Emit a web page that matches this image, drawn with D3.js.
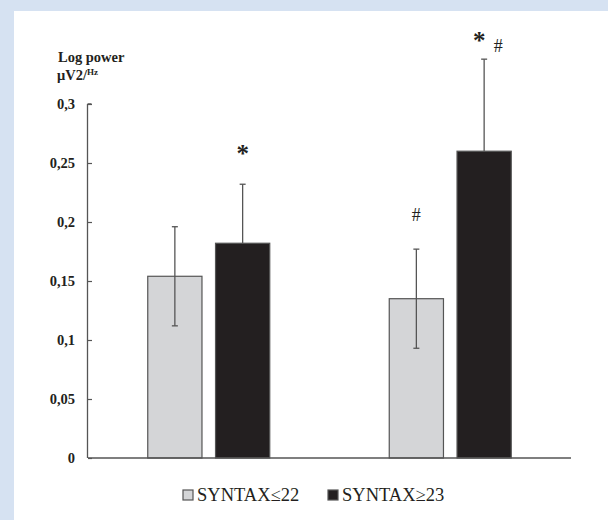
<!DOCTYPE html>
<html>
<head>
<meta charset="utf-8">
<script src="https://cdn.jsdelivr.net/npm/d3@7"></script>
<style>
  html, body { margin: 0; padding: 0; background: #d6e2f2; }
  svg { display: block; }
  text { font-family: "Liberation Serif", "Times New Roman", serif; fill: #231f20; }
</style>
</head>
<body>
<div id="chart"></div>
<script>
// groups on the x axis (no labels shown)
var groups = ['A', 'B'];
var series = ['SYNTAX≤22', 'SYNTAX≥23'];
var means = [[0.154, 0.182], [0.135, 0.260]];
var sds = [[0.042, 0.050], [0.042, 0.078]];
var marks = [['', '*'], ['#', '* #']];
var yTicks = [0, 0.05, 0.1, 0.15, 0.2, 0.25, 0.3];
var tickLabels = ['0', '0,05', '0,1', '0,15', '0,2', '0,25', '0,3'];

var width = 608, height = 520;
var colors = ['#d4d5d7', '#231f20'];

var svg = d3.select('#chart').append('svg')
  .attr('width', width)
  .attr('height', height);

// white panel
svg.append('rect')
  .attr('x', 14).attr('y', 11)
  .attr('width', width - 14).attr('height', height - 11)
  .attr('fill', '#fff');

var y = d3.scaleLinear().domain([0, 0.3]).range([458, 104]);
var x0 = d3.scaleBand().domain(groups).range([88, 571]);
var x1 = d3.scaleBand().domain(series).range([0, 122]).paddingInner(0.2);
var off = (x0.bandwidth() - 122) / 2;

// y axis
var yAxis = d3.axisLeft(y)
  .tickValues(yTicks)
  .tickSize(-4)
  .tickPadding(13)
  .tickFormat(function(d, i) { return tickLabels[i]; });

var ya = svg.append('g')
  .attr('transform', 'translate(88,0)')
  .call(yAxis);
ya.select('.domain').attr('stroke', '#555').attr('stroke-width', 1.3).attr('d', 'M-0.5,104H3.5M-0.5,104V458');
ya.selectAll('.tick line').attr('stroke', '#555').attr('stroke-width', 1.2);
ya.selectAll('.tick text')
  .attr('font-family', '"Liberation Serif", serif')
  .attr('font-size', 14.5)
  .attr('font-weight', 'bold')
  .attr('fill', '#231f20');

// bars
var g = svg.append('g');
groups.forEach(function(grp, gi) {
  series.forEach(function(s, si) {
    var bx = x0(grp) + off + x1(s);
    var bw = x1.bandwidth();
    var v = means[gi][si], e = sds[gi][si];
    g.append('rect')
      .attr('x', bx).attr('y', y(v))
      .attr('width', bw).attr('height', y(0) - y(v))
      .attr('fill', colors[si])
      .attr('stroke', '#555')
      .attr('stroke-width', 1.2);
    var cx = bx + bw / 2;
    var lo = si === 0 ? v - e : v;
    g.append('line')
      .attr('x1', cx).attr('x2', cx)
      .attr('y1', y(v + e)).attr('y2', y(lo))
      .attr('stroke', '#555').attr('stroke-width', 1.3);
    g.append('line')
      .attr('x1', cx - 3).attr('x2', cx + 3)
      .attr('y1', y(v + e)).attr('y2', y(v + e))
      .attr('stroke', '#555').attr('stroke-width', 1.3);
    if (si === 0) {
      g.append('line')
        .attr('x1', cx - 3).attr('x2', cx + 3)
        .attr('y1', y(v - e)).attr('y2', y(v - e))
        .attr('stroke', '#555').attr('stroke-width', 1.3);
    }
    // significance marks
    var m = marks[gi][si];
    var both = m === '* #';
    if (m.indexOf('*') >= 0) {
      g.append('text')
        .attr('x', both ? cx - 5 : cx)
        .attr('y', y(v + e) - (both ? 10 : 22))
        .attr('text-anchor', 'middle')
        .attr('font-family', '"DejaVu Sans", sans-serif')
        .attr('font-size', 25)
        .attr('font-weight', 'bold')
        .text('*');
    }
    if (m.indexOf('#') >= 0) {
      g.append('text')
        .attr('x', both ? cx + 14 : cx)
        .attr('y', y(v + e) - (both ? 7 : 28))
        .attr('text-anchor', 'middle')
        .attr('font-size', 18)
        .text('#');
    }
  });
});

// x axis baseline
svg.append('line')
  .attr('x1', 88).attr('x2', 571)
  .attr('y1', y(0)).attr('y2', y(0))
  .attr('stroke', '#555').attr('stroke-width', 1.4);

// axis title
svg.append('text')
  .attr('x', 58).attr('y', 62)
  .attr('font-size', 14.5)
  .attr('font-weight', 'bold')
  .text('Log power');
var t2 = svg.append('text')
  .attr('x', 57).attr('y', 80)
  .attr('font-size', 14.5)
  .attr('font-weight', 'bold');
t2.append('tspan').text('μV2/');
t2.append('tspan').attr('font-size', 9).attr('dy', -5).text('Hz');

// legend
var legX = [183, 328];
series.forEach(function(s, i) {
  svg.append('rect')
    .attr('x', legX[i]).attr('y', 490)
    .attr('width', 10).attr('height', 10)
    .attr('fill', colors[i])
    .attr('stroke', '#555')
    .attr('stroke-width', 1.2);
  svg.append('text')
    .attr('x', legX[i] + 14).attr('y', 501)
    .attr('font-size', 18.5)
    .text(s);
});
</script>
</body>
</html>
